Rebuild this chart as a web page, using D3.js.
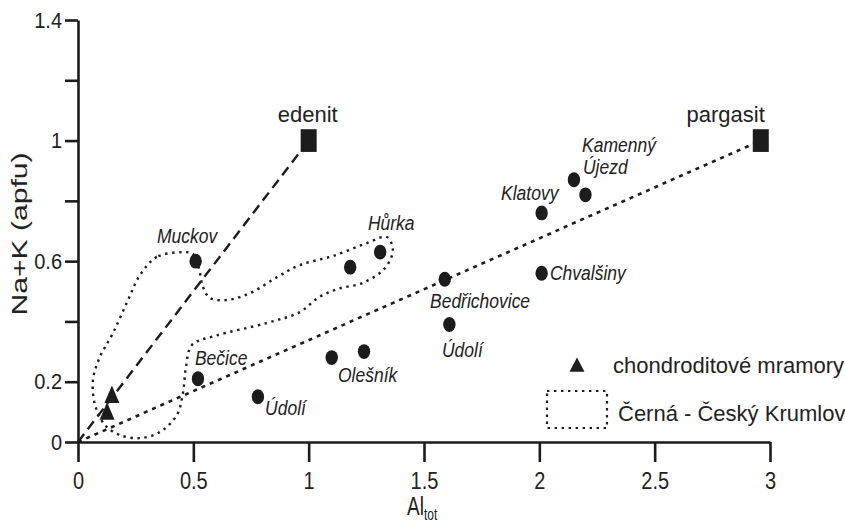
<!DOCTYPE html>
<html>
<head>
<meta charset="utf-8">
<script src="https://cdn.jsdelivr.net/npm/d3@7"></script>
<style>
  body { margin: 0; background: #fff; }
  svg { display: block; font-family: "Liberation Sans", Arial, sans-serif; }
</style>
</head>
<body>
<svg id="chart" width="845" height="524"></svg>
<script>
// ----------------------- data
const xTicks = [0, 0.5, 1, 1.5, 2, 2.5, 3];
const yTicks = [0, 0.2, 0.4, 0.6, 0.8, 1, 1.2, 1.4];
const yLabelled = [0, 0.2, 0.6, 1, 1.4];

// amphibole analyses (circles)
const sampleAl  = [0.51, 0.52, 0.78, 1.10, 1.24, 1.18, 1.31, 1.59, 1.61, 2.01, 2.01, 2.15, 2.20];
const sampleNaK = [0.60, 0.21, 0.15, 0.28, 0.30, 0.58, 0.63, 0.54, 0.39, 0.76, 0.56, 0.87, 0.82];

// chondroditové mramory (triangles)
const marbleAl  = [0.147, 0.126];
const marbleNaK = [0.149, 0.093];

// end members (squares)
const endNames = ["edenit", "pargasit"];
const endAl    = [1, 2.96];
const endNaK   = [1, 1];

// locality labels (start of text, in data units)
const siteNames = ["Muckov", "Hůrka", "Kamenný", "Újezd", "Klatovy", "Chvalšiny",
                   "Bedřichovice", "Údolí", "Olešník", "Údolí", "Bečice"];
const siteAl  = [0.342, 1.257, 2.185, 2.189, 1.834, 2.046, 1.526, 1.578, 1.127, 0.811, 0.507];
const siteNaK = [0.660, 0.703, 0.962, 0.890, 0.803, 0.537, 0.445, 0.282, 0.199, 0.090, 0.255];

// outline of the Černá - Český Krumlov field
const outlineAl  = [0.455, 0.342, 0.269, 0.217, 0.152, 0.095, 0.065, 0.074, 0.117, 0.182,
                    0.269, 0.355, 0.429, 0.455, 0.468, 0.494, 0.594, 0.819, 0.962, 1.040,
                    1.127, 1.235, 1.331, 1.365, 1.339, 1.253, 1.105, 0.962, 0.863, 0.746,
                    0.646, 0.572, 0.542, 0.524, 0.498];
const outlineNaK = [0.630, 0.614, 0.554, 0.471, 0.362, 0.282, 0.206, 0.123, 0.056, 0.023,
                    0.013, 0.033, 0.090, 0.163, 0.249, 0.322, 0.352, 0.395, 0.431, 0.478,
                    0.508, 0.528, 0.577, 0.637, 0.680, 0.660, 0.617, 0.587, 0.547, 0.494,
                    0.471, 0.478, 0.514, 0.577, 0.624];

// ----------------------- chart
const ink = "#1c1c1c";
const svg = d3.select("#chart");

const x = d3.scaleLinear().domain([0, 3]).range([78, 770]);
const y = d3.scaleLinear().domain([0, 1.4]).range([442, 20]);

// axes
const xAxis = svg.append("g")
    .attr("transform", `translate(0,${y(0)})`)
    .call(d3.axisBottom(x).tickValues(xTicks).tickFormat(d3.format("~g"))
        .tickSize(20).tickSizeOuter(0));

const yAxis = svg.append("g")
    .attr("transform", `translate(${x(0)},0)`)
    .call(d3.axisLeft(y).tickValues(yTicks)
        .tickFormat(d => yLabelled.includes(d) ? d3.format("~g")(d) : "")
        .tickSize(13).tickPadding(3).tickSizeOuter(0));

[xAxis, yAxis].forEach(g => {
    g.attr("font-family", null).attr("font-size", null);
    g.selectAll("path, line").attr("stroke", ink).attr("stroke-width", 2.6);
    g.selectAll("text").attr("fill", "#222").attr("font-size", 20);
});
xAxis.selectAll("text").attr("dy", null).attr("y", 39).attr("transform", "scale(1,1.2)");
yAxis.selectAll("text").attr("transform", "scale(1,1.12)");

// axis titles
svg.append("text")
    .attr("transform", "translate(27,234) rotate(-90) scale(1.4,1)")
    .attr("text-anchor", "middle")
    .attr("font-size", 21.5)
    .attr("fill", "#222")
    .text("Na+K (apfu)");

const xt = svg.append("text")
    .attr("transform", "translate(407,515) scale(1,1.35)")
    .attr("fill", "#222");
xt.append("tspan").attr("font-size", 19).text("Al");
xt.append("tspan").attr("font-size", 12).attr("dy", 4).text("tot");

// lines from the origin to the end members
svg.append("line")
    .attr("x1", x(0)).attr("y1", y(0))
    .attr("x2", x(endAl[0])).attr("y2", y(endNaK[0]))
    .attr("stroke", ink).attr("stroke-width", 2.4)
    .attr("stroke-dasharray", "10,6");

svg.append("line")
    .attr("x1", x(0)).attr("y1", y(0))
    .attr("x2", x(endAl[1])).attr("y2", y(endNaK[1]))
    .attr("stroke", ink).attr("stroke-width", 2.6)
    .attr("stroke-dasharray", "4,5");

// dotted field outline
const outline = d3.line()
    .x(d => x(d[0]))
    .y(d => y(d[1]))
    .curve(d3.curveCatmullRomClosed.alpha(0.5));

svg.append("path")
    .attr("d", outline(d3.zip(outlineAl, outlineNaK)))
    .attr("fill", "none")
    .attr("stroke", ink)
    .attr("stroke-width", 2.4)
    .attr("stroke-dasharray", "2.4,4.6");

// markers
const circle = d3.symbol(d3.symbolCircle, Math.PI * 6.2 * 6.2);
svg.append("g").selectAll("path")
    .data(d3.zip(sampleAl, sampleNaK))
    .join("path")
    .attr("d", circle)
    .attr("transform", d => `translate(${x(d[0])},${y(d[1])}) scale(1,1.2)`)
    .attr("fill", ink);

const triangle = d3.symbol(d3.symbolTriangle, 97);
svg.append("g").selectAll("path")
    .data(d3.zip(marbleAl, marbleNaK))
    .join("path")
    .attr("d", triangle)
    .attr("transform", d => `translate(${x(d[0])},${y(d[1])}) scale(1,1.35)`)
    .attr("fill", ink);

const square = d3.symbol(d3.symbolSquare, 16 * 16);
const ends = svg.append("g").selectAll("g")
    .data(d3.zip(endNames, endAl, endNaK))
    .join("g")
    .attr("transform", d => `translate(${x(d[1])},${y(d[2])})`);

ends.append("path")
    .attr("d", square)
    .attr("transform", "scale(1,1.42)")
    .attr("fill", ink);

ends.append("text")
    .attr("x", (d, i) => i === 0 ? -1 : 4)
    .attr("y", -19)
    .attr("text-anchor", (d, i) => i === 0 ? "middle" : "end")
    .attr("font-size", 22)
    .attr("fill", "#222")
    .text(d => d[0]);

// locality labels
svg.append("g").selectAll("text")
    .data(d3.zip(siteNames, siteAl, siteNaK))
    .join("text")
    .attr("transform", d => `translate(${x(d[1])},${y(d[2])}) scale(1,1.2)`)
    .attr("font-size", 17.5)
    .attr("font-style", "italic")
    .attr("fill", "#222")
    .text(d => d[0]);

// legend
const legend = svg.append("g");
legend.append("path")
    .attr("d", d3.symbol(d3.symbolTriangle, 97))
    .attr("transform", "translate(577,367) scale(1,1.1)")
    .attr("fill", ink);
legend.append("text")
    .attr("x", 613).attr("y", 373)
    .attr("font-size", 22)
    .attr("fill", "#222")
    .text("chondroditové mramory");

legend.append("rect")
    .attr("x", 547).attr("y", 391)
    .attr("width", 60).attr("height", 37)
    .attr("fill", "none")
    .attr("stroke", ink)
    .attr("stroke-width", 2.2)
    .attr("stroke-dasharray", "2.4,4.6");
legend.append("text")
    .attr("x", 618).attr("y", 421)
    .attr("font-size", 22)
    .attr("fill", "#222")
    .text("Černá - Český Krumlov");
</script>
</body>
</html>
